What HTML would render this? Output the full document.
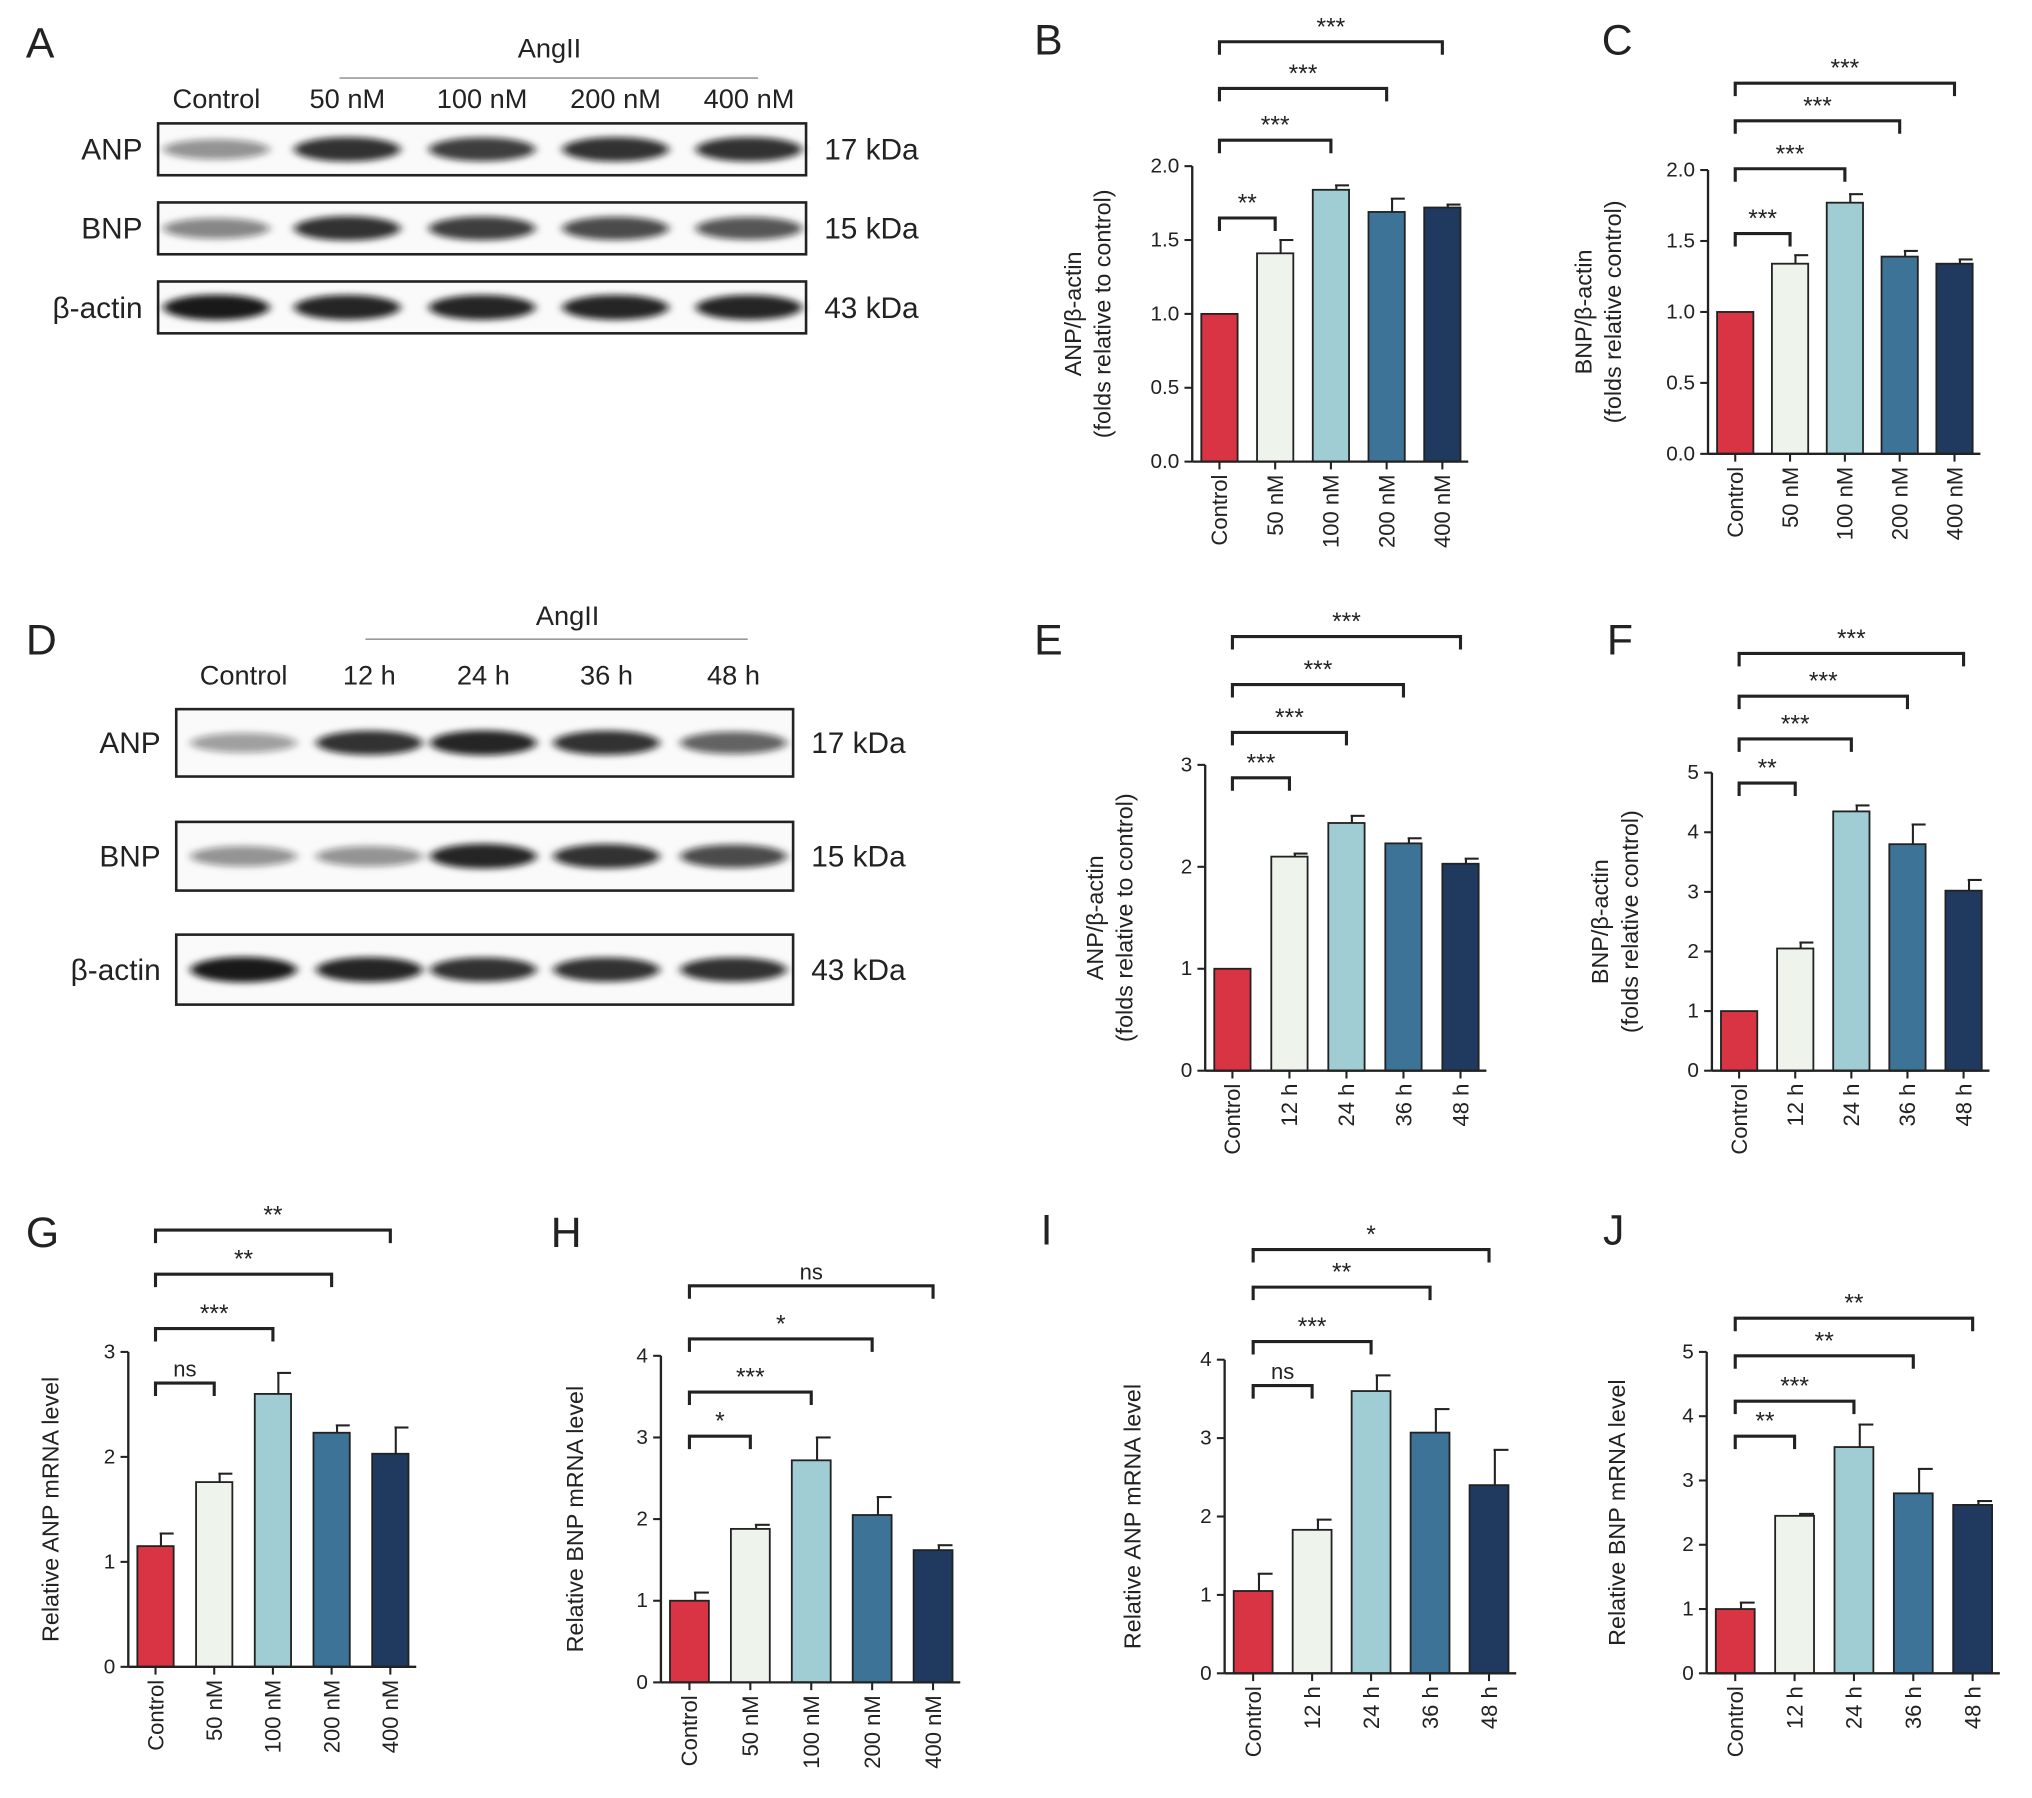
<!DOCTYPE html>
<html><head><meta charset="utf-8">
<style>
html,body{margin:0;padding:0;background:#fff;}
svg{display:block;font-family:"Liberation Sans",Arial,sans-serif;}
</style></head>
<body>
<svg id="fig" width="2032" height="1798" viewBox="0 0 1568 1387" xmlns="http://www.w3.org/2000/svg">
<defs>
<filter id="blur" x="-20%" y="-100%" width="140%" height="300%"><feGaussianBlur stdDeviation="3.5 2.5"/></filter>
</defs>
<g id="root"></g>
</svg>
<script>
const NS='http://www.w3.org/2000/svg';
const root=document.getElementById('root');
function el(tag,attrs,parent,text){const e=document.createElementNS(NS,tag);for(const k in attrs)e.setAttribute(k,attrs[k]);if(text!==undefined)e.textContent=text;(parent||root).appendChild(e);return e;}
const COLORS=['#d93444','#eef3ec','#9fcdd3','#3d7397','#1f3a5e'];

// ---------- Chart data ----------
const catsDose=['Control','50 nM','100 nM','200 nM','400 nM'];
const catsTime=['Control','12 h','24 h','36 h','48 h'];
const bVals=[1.0,1.41,1.84,1.69,1.72];
const bErr=[0,0.09,0.03,0.09,0.02];
const bTicks=[0,0.5,1.0,1.5,2.0];
const bSig=['**','***','***','***'];
const cVals=[1.0,1.34,1.77,1.39,1.34];
const cErr=[0,0.06,0.06,0.04,0.03];
const cTicks=[0,0.5,1.0,1.5,2.0];
const cSig=['***','***','***','***'];
const eVals=[1.0,2.1,2.43,2.23,2.03];
const eErr=[0,0.03,0.07,0.05,0.05];
const eTicks=[0,1,2,3];
const eSig=['***','***','***','***'];
const fVals=[1.0,2.05,4.35,3.8,3.02];
const fErr=[0,0.1,0.1,0.33,0.18];
const fTicks=[0,1,2,3,4,5];
const fSig=['**','***','***','***'];
const gVals=[1.15,1.76,2.6,2.23,2.03];
const gErr=[0.12,0.08,0.2,0.07,0.25];
const gTicks=[0,1,2,3];
const gSig=['ns','***','**','**'];
const hVals=[1.0,1.88,2.72,2.05,1.62];
const hErr=[0.1,0.05,0.28,0.22,0.06];
const hTicks=[0,1,2,3,4];
const hSig=['*','***','*','ns'];
const iVals=[1.05,1.83,3.6,3.07,2.4];
const iErr=[0.22,0.13,0.2,0.3,0.45];
const iTicks=[0,1,2,3,4];
const iSig=['ns','***','**','*'];
const jVals=[1.0,2.45,3.52,2.8,2.62];
const jErr=[0.1,0.03,0.35,0.38,0.06];
const jTicks=[0,1,2,3,4,5];
const jSig=['**','***','**','**'];

function fmt(t,dec){return dec?t.toFixed(1):String(t);}

function chart(id,cfg,cats,vals,errs,ticks,sig){
  const g=el('g',{});
  
  
  const ymax=ticks[ticks.length-1];
  const y=v=>cfg.y0-(cfg.y0-cfg.yTop)*v/ymax;
  const x=i=>cfg.x1+cfg.bw/2+7+i*cfg.step;
  const xEnd=x(cats.length-1)+cfg.bw/2+6;
  vals.forEach((v,i)=>{
    const cx=x(i);
    const top=y(v+errs[i]);
    if(errs[i]>0){
      const l=el('line',{x1:cx+cfg.bw*0.15,x2:cx+cfg.bw*0.15,y1:y(v),y2:top,stroke:'#222','stroke-width':1.6},g);
      
      
      const c=el('line',{x1:cx+cfg.bw*0.15-1,x2:cx+cfg.bw/2,y1:top,y2:top,stroke:'#222','stroke-width':1.6},g);
      
      
    }
    const r=el('rect',{x:cx-cfg.bw/2,y:y(v),width:cfg.bw,height:cfg.y0-y(v),fill:COLORS[i],stroke:'#222','stroke-width':1.4},g);
    
    
  });
  const ya=el('line',{x1:cfg.x1,x2:cfg.x1,y1:cfg.y0,y2:cfg.yTop,stroke:'#222','stroke-width':1.8},g);
  
  
  const xa=el('line',{x1:cfg.x1,x2:xEnd,y1:cfg.y0,y2:cfg.y0,stroke:'#222','stroke-width':1.8},g);
  
  
  ticks.forEach(t=>{
    el('line',{x1:cfg.x1-6,x2:cfg.x1,y1:y(t),y2:y(t),stroke:'#222','stroke-width':1.6},g);
    const tl=el('text',{x:cfg.x1-10,y:y(t)+5,'text-anchor':'end','font-size':16,fill:'#222'},g,fmt(t,cfg.dec));
    
    
  });
  cats.forEach((c,i)=>{
    el('line',{x1:x(i),x2:x(i),y1:cfg.y0,y2:cfg.y0+6,stroke:'#222','stroke-width':1.6},g);
    const t=el('text',{x:0,y:0,'text-anchor':'end','font-size':17,fill:'#222',transform:`translate(${x(i)+6},${cfg.y0+10}) rotate(-90)`},g,c);
    
    
  });
  cfg.ylab.forEach((s,k)=>{
    const t=el('text',{x:0,y:0,'text-anchor':'middle','font-size':18,fill:'#222',transform:`translate(${cfg.ylx+k*23},${(cfg.y0+cfg.yTop)/2}) rotate(-90)`},g,s);
    
    
  });
  sig.forEach((s,k)=>{
    const by=cfg.br[k];
    const x0=x(0), x2=x(k+1);
    const p=el('path',{d:`M${x0},${by+10}V${by}H${x2}V${by+10}`,fill:'none',stroke:'#222','stroke-width':2.4},g);
    
    
    const t=el('text',{x:(x0+x2)/2,y:by-5,'text-anchor':'middle','font-size':s==='ns'?17:19,fill:'#222'},g,s);
    
    
  });
}

chart('b',{x1:920,y0:356,yTop:128,bw:28,step:43,dec:true,ylx:834,ylab:['ANP/β-actin','(folds relative to control)'],br:[168,108,68,32]},catsDose,bVals,bErr,bTicks,bSig);
chart('c',{x1:1318,y0:350,yTop:131,bw:28,step:42.3,dec:true,ylx:1228,ylab:['BNP/β-actin','(folds relative control)'],br:[180,130,93,64]},catsDose,cVals,cErr,cTicks,cSig);
chart('e',{x1:930,y0:826,yTop:590,bw:28,step:44,dec:false,ylx:851,ylab:['ANP/β-actin','(folds relative to control)'],br:[600,565,528,491]},catsTime,eVals,eErr,eTicks,eSig);
chart('f',{x1:1321,y0:826,yTop:596,bw:28,step:43.3,dec:false,ylx:1241,ylab:['BNP/β-actin','(folds relative control)'],br:[604,570,537,504]},catsTime,fVals,fErr,fTicks,fSig);
chart('g',{x1:99,y0:1286,yTop:1043,bw:28,step:45.3,dec:false,ylx:45,ylab:['Relative ANP mRNA level'],br:[1067,1025,983,949]},catsDose,gVals,gErr,gTicks,gSig);
chart('h',{x1:510,y0:1298,yTop:1046,bw:30,step:47,dec:false,ylx:450,ylab:['Relative BNP mRNA level'],br:[1108,1074,1033,992]},catsDose,hVals,hErr,hTicks,hSig);
chart('i',{x1:945,y0:1291,yTop:1049,bw:30,step:45.5,dec:false,ylx:880,ylab:['Relative ANP mRNA level'],br:[1069,1035,993,964]},catsTime,iVals,iErr,iTicks,iSig);
chart('j',{x1:1317,y0:1291,yTop:1043,bw:30,step:45.8,dec:false,ylx:1254,ylab:['Relative BNP mRNA level'],br:[1108,1081,1046,1017]},catsTime,jVals,jErr,jTicks,jSig);

// ---------- Western blots ----------
const blotA={rows:[['ANP',95,135,'17 kDa'],['BNP',156,196,'15 kDa'],['β-actin',217,257,'43 kDa']],x1:122,x2:622,lanes:[167,268,372,475,578],
  inten:[[0.45,0.85,0.8,0.85,0.85],[0.5,0.85,0.8,0.75,0.7],[0.95,0.9,0.9,0.9,0.9]],
  heads:['Control','50 nM','100 nM','200 nM','400 nM'],headY:83,ang:[262,585,60,424,44]};
const blotD={rows:[['ANP',547,599,'17 kDa'],['BNP',634,687,'15 kDa'],['β-actin',721,775,'43 kDa']],x1:136,x2:612,lanes:[188,285,373,468,566],
  inten:[[0.4,0.85,0.9,0.85,0.65],[0.45,0.45,0.9,0.85,0.75],[0.95,0.9,0.85,0.85,0.85]],
  heads:['Control','12 h','24 h','36 h','48 h'],headY:528,ang:[282,577,493,438,482]};
function blot(name,b){
  const g=el('g',{});
  
  
  b.heads.forEach((h,i)=>{
    const t=el('text',{x:b.lanes[i],y:b.headY,'text-anchor':'middle','font-size':21,fill:'#222'},g,h);
    
    
  });
  el('line',{x1:b.ang[0],x2:b.ang[1],y1:b.ang[2],y2:b.ang[2],stroke:'#999','stroke-width':1.2},g);
  const at=el('text',{x:b.ang[3],y:b.ang[4],'text-anchor':'middle','font-size':21,fill:'#222'},g,'AngII');
  
  
  b.rows.forEach((r,k)=>{
    const [lab,y1,y2,kda]=r;
    el('rect',{x:b.x1,y:y1,width:b.x2-b.x1,height:y2-y1,fill:'#fafafa',stroke:'#222','stroke-width':2},g);
    const cy=(y1+y2)/2;
    b.lanes.forEach((lx,i)=>{
      const a=b.inten[k][i];
      el('ellipse',{cx:lx,cy:cy,rx:41,ry:6+4*a,fill:'#111','fill-opacity':a,filter:'url(#blur)'},g);
    });
    const t=el('text',{x:b.x1-12,y:cy+8,'text-anchor':'end','font-size':23,fill:'#222'},g,lab);
    
    
    const kt=el('text',{x:b.x2+14,y:cy+8,'font-size':23,fill:'#222'},g,kda);
    
    
  });
}
blot('western-blot-a',blotA);
blot('western-blot-d',blotD);

// ---------- Panel letters ----------
const letters=[['A',20,44],['B',798,42],['C',1236,42],['D',20,505],['E',798,505],['F',1240,505],['G',20,962],['H',425,962],['I',803,960],['J',1237,960]];
letters.forEach(l=>{
  const t=el('text',{x:l[1],y:l[2],'font-size':33,fill:'#222'},root,l[0]);
  
  
});
</script>
</body></html>
